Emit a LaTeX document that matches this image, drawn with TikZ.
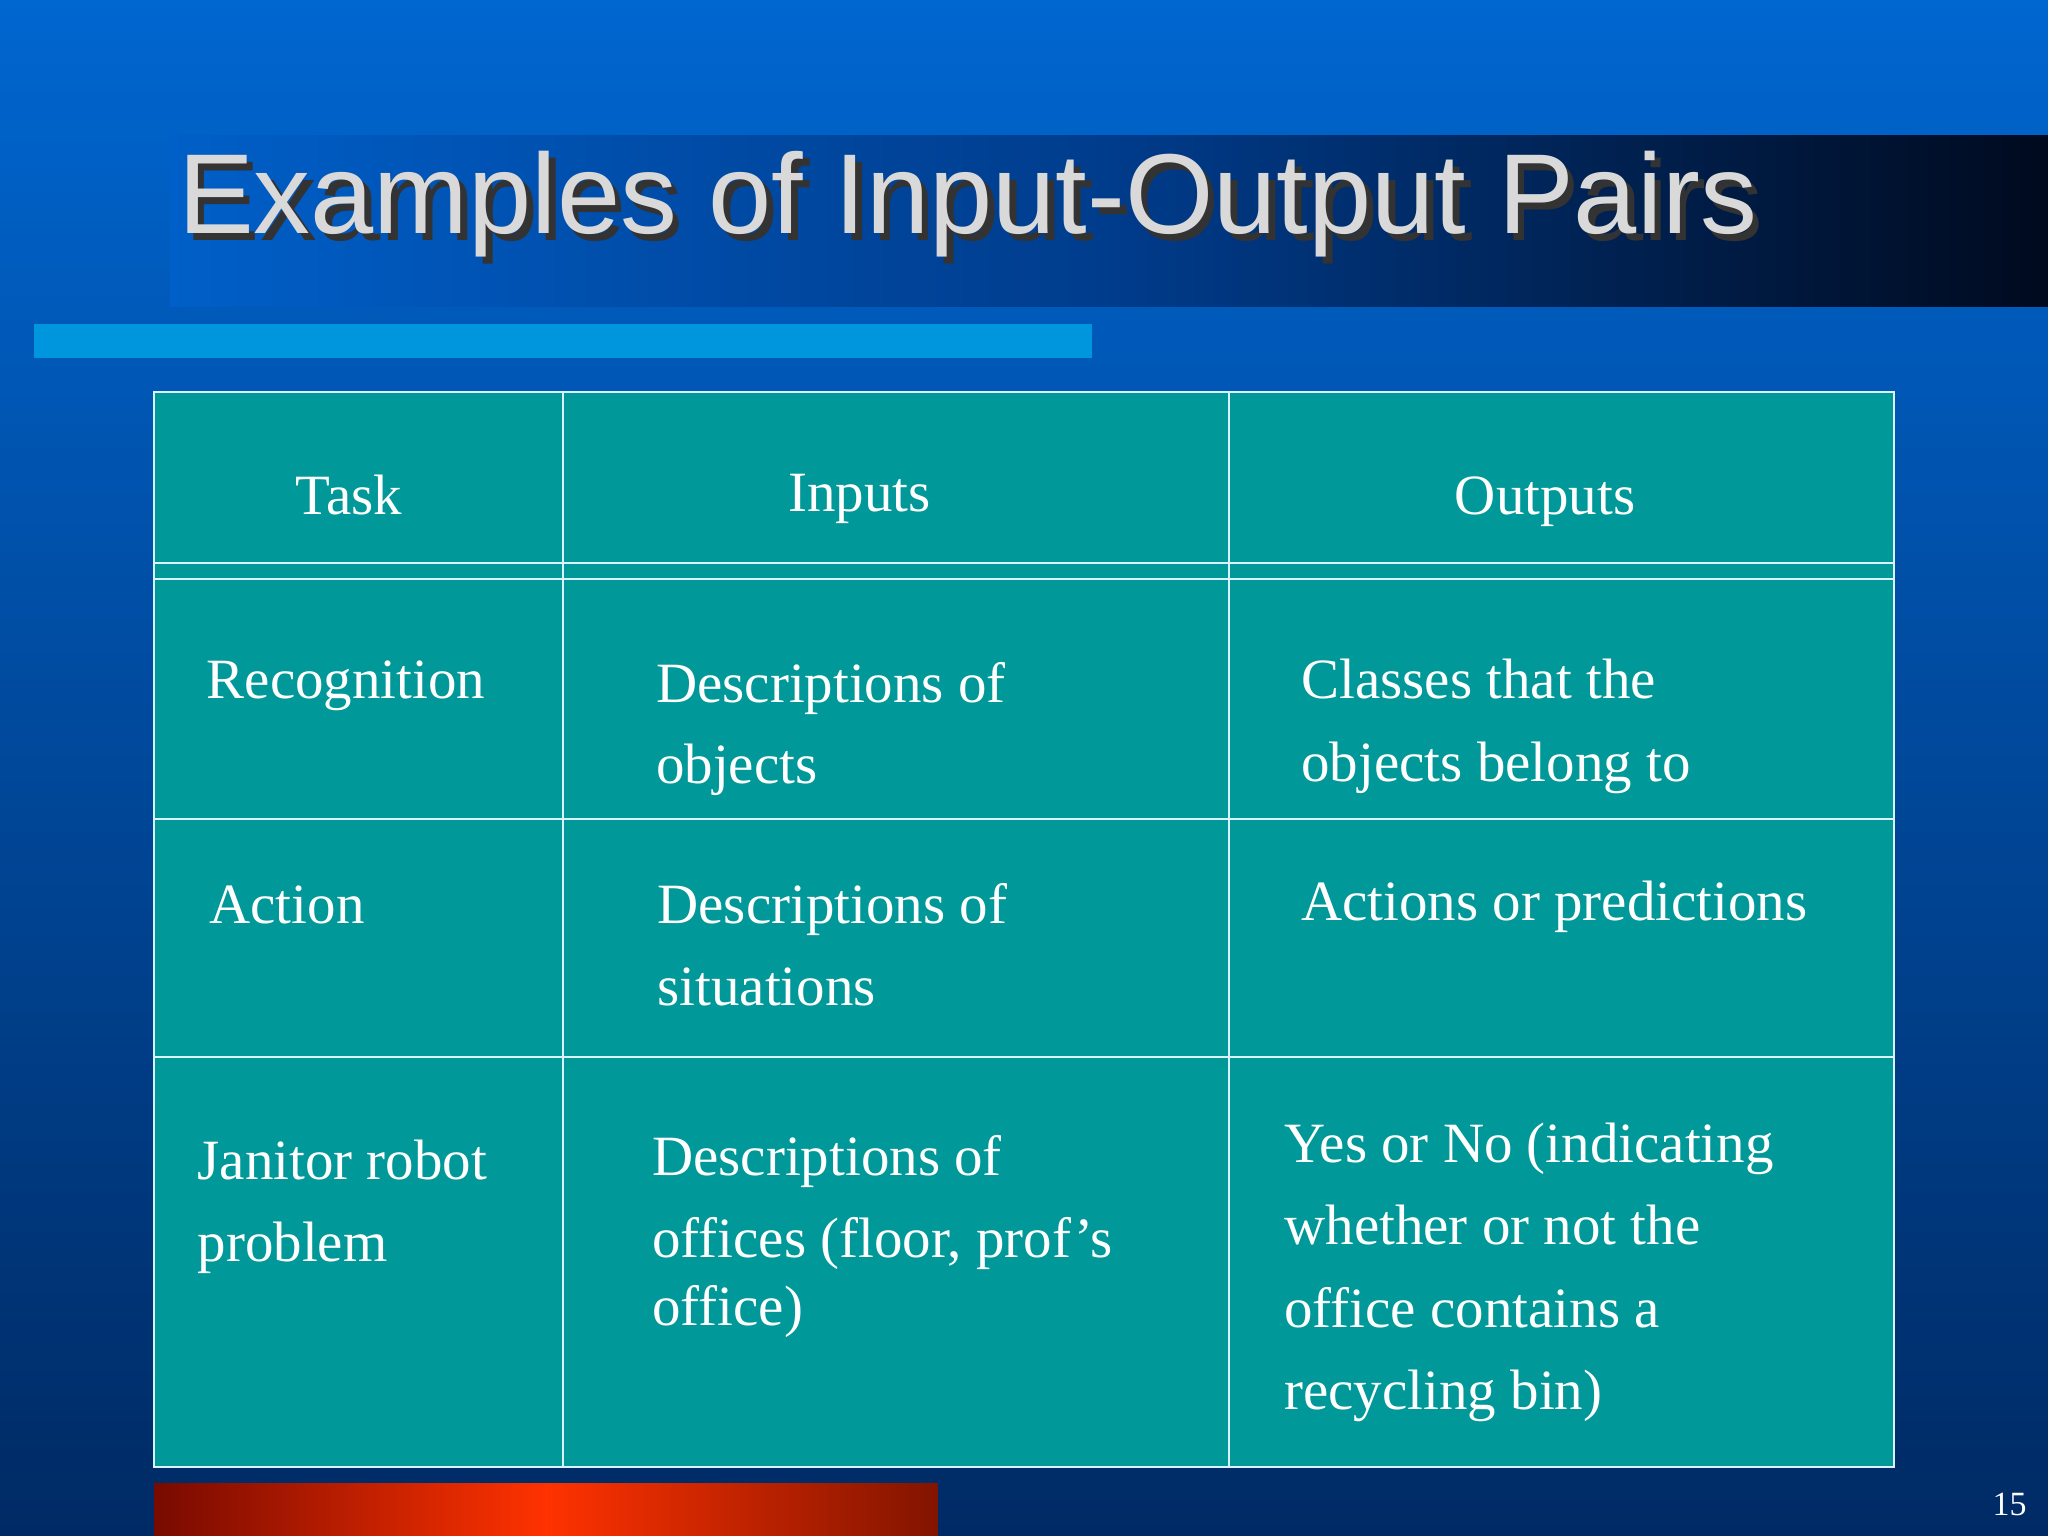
\documentclass[tikz,border=0pt]{standalone}
\usepackage{fontspec}
\setmainfont{Liberation Serif}
\newfontfamily\titlefont{Liberation Sans}
\begin{document}
\begin{tikzpicture}[x=0.5pt,y=-0.5pt,
  cell/.style={anchor=base west,inner sep=0pt,text=white,font=\fontsize{21.8}{26}\selectfont},
  head/.style={anchor=base,inner sep=0pt,text=white,font=\fontsize{21.8}{26}\selectfont},
  tline/.style={draw=white!85!cyan,line width=0.8pt}]
\definecolor{bgtop}{RGB}{0,102,208}
\definecolor{bgbot}{RGB}{0,42,100}
\definecolor{teal1}{RGB}{0,152,152}
\useasboundingbox (0,0) rectangle (1568,1176);
\shade[top color=bgtop,bottom color=bgbot] (0,0) rectangle (1568,1176);
\shade[left color={rgb,255:red,0;green,95;blue,200},right color={rgb,255:red,0;green,10;blue,30},middle color={rgb,255:red,0;green,60;blue,140}] (130,104) rectangle (1568,235);
\fill[color={rgb,255:red,0;green,150;blue,222}] (26,248) rectangle (836,274);
\shade[left color={rgb,255:red,120;green,10;blue,0},right color={rgb,255:red,130;green,20;blue,0},middle color={rgb,255:red,255;green,50;blue,0}] (118,1136) rectangle (718,1176);
\node[anchor=base west,inner sep=0pt,text=black!80,font=\titlefont\fontsize{43.5}{50}\selectfont] (tsh) at (141,184) {Examples of Input-Output Pairs};
\node[anchor=base west,inner sep=0pt,text=white!85!black,font=\titlefont\fontsize{43.5}{50}\selectfont] (title) at (136,179) {Examples of Input-Output Pairs};
\fill[teal1] (118,300) rectangle (1450,1123);
\draw[tline] (118,300) rectangle (1450,1123);
\draw[tline] (431,300) -- (431,1123) (941,300) -- (941,1123);
\draw[tline] (118,431) -- (1450,431) (118,443) -- (1450,443) (118,627) -- (1450,627) (118,809) -- (1450,809);
\node[head] (h1) at (267,394) {Task};
\node[head] (h2) at (658,392) {Inputs};
\node[head] (h3) at (1183,394) {Outputs};
\node[cell] (a1) at (158,535) {Recognition};
\node[cell] (a2) at (502,538) {Descriptions of};
\node[cell] (a3) at (502,600) {objects};
\node[cell] (a4) at (996,535) {Classes that the};
\node[cell] (a5) at (996,598) {objects belong to};
\node[cell] (b1) at (160,707) {Action};
\node[cell] (b2) at (503,707) {Descriptions of};
\node[cell] (b3) at (503,770) {situations};
\node[cell] (b4) at (996,705) {Actions or predictions};
\node[cell] (c1) at (151,903) {Janitor robot};
\node[cell] (c2) at (151,966) {problem};
\node[cell] (c3) at (499,900) {Descriptions of};
\node[cell] (c4) at (499,963) {offices (floor, prof’s};
\node[cell] (c5) at (499,1015) {office)};
\node[cell] (c6) at (983,890) {Yes or No (indicating};
\node[cell] (c7) at (983,953) {whether or not the};
\node[cell] (c8) at (983,1016) {office contains a};
\node[cell] (c9) at (983,1079) {recycling bin)};
\node[anchor=base east,inner sep=0pt,text=white,font=\fontsize{13}{15}\selectfont] (pn) at (1552,1160) {15};
\end{tikzpicture}
\end{document}
